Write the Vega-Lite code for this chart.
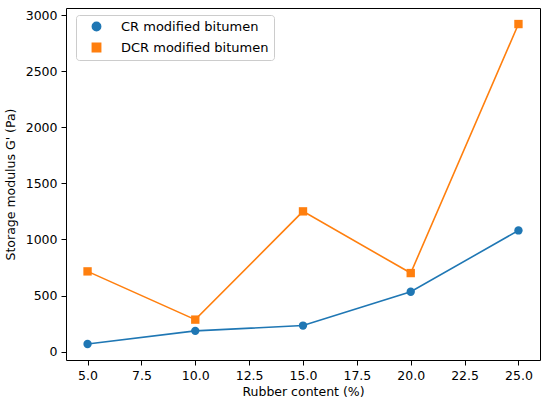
{
  "$schema": "https://vega.github.io/schema/vega-lite/v6.json",
  "width": 474,
  "height": 352,
  "autosize": {"type": "none"},
  "padding": {"left": 66, "top": 8, "right": 10, "bottom": 48},
  "background": "white",
  "config": {
    "font": "DejaVu Sans",
    "view": {"stroke": "#000000", "strokeWidth": 1},
    "axis": {
      "grid": false,
      "domain": false,
      "tickColor": "#000000",
      "tickSize": 5,
      "labelFontSize": 12.5,
      "labelColor": "#000000",
      "titleFontSize": 12.5,
      "titleFontWeight": "normal",
      "titleColor": "#000000",
      "labelPadding": 4
    },
    "legend": {
      "title": null,
      "orient": "none",
      "legendX": 10,
      "legendY": 7,
      "direction": "vertical",
      "fillColor": "white",
      "strokeColor": "#cccccc",
      "cornerRadius": 3,
      "padding": 5,
      "labelFontSize": 13,
      "labelColor": "#000000",
      "symbolSize": 70,
      "rowPadding": 6,
      "symbolOffset": 9,
      "labelOffset": 18
    }
  },
  "data": {
    "values": [
      {"rubber": 5, "modulus": 68, "series": "CR modified bitumen"},
      {"rubber": 10, "modulus": 185, "series": "CR modified bitumen"},
      {"rubber": 15, "modulus": 232, "series": "CR modified bitumen"},
      {"rubber": 20, "modulus": 533, "series": "CR modified bitumen"},
      {"rubber": 25, "modulus": 1080, "series": "CR modified bitumen"},
      {"rubber": 5, "modulus": 715, "series": "DCR modified bitumen"},
      {"rubber": 10, "modulus": 285, "series": "DCR modified bitumen"},
      {"rubber": 15, "modulus": 1250, "series": "DCR modified bitumen"},
      {"rubber": 20, "modulus": 700, "series": "DCR modified bitumen"},
      {"rubber": 25, "modulus": 2920, "series": "DCR modified bitumen"}
    ]
  },
  "encoding": {
    "x": {
      "field": "rubber",
      "type": "quantitative",
      "title": "Rubber content (%)",
      "scale": {"domain": [4, 26], "nice": false, "zero": false},
      "axis": {"values": [5, 7.5, 10, 12.5, 15, 17.5, 20, 22.5, 25], "format": ".1f", "titlePadding": 4}
    },
    "y": {
      "field": "modulus",
      "type": "quantitative",
      "title": "Storage modulus G' (Pa)",
      "scale": {"domain": [-75, 3063], "nice": false, "zero": false},
      "axis": {"values": [0, 500, 1000, 1500, 2000, 2500, 3000], "format": "d", "titlePadding": 8}
    }
  },
  "layer": [
    {
      "mark": {"type": "line", "strokeWidth": 1.6},
      "encoding": {
        "color": {
          "field": "series",
          "type": "nominal",
          "scale": {"domain": ["CR modified bitumen", "DCR modified bitumen"], "range": ["#1f77b4", "#ff7f0e"]}
        }
      }
    },
    {
      "mark": {"type": "point", "filled": true, "opacity": 1, "size": 70},
      "encoding": {
        "color": {
          "field": "series",
          "type": "nominal",
          "scale": {"domain": ["CR modified bitumen", "DCR modified bitumen"], "range": ["#1f77b4", "#ff7f0e"]}
        },
        "shape": {
          "field": "series",
          "type": "nominal",
          "scale": {"domain": ["CR modified bitumen", "DCR modified bitumen"], "range": ["circle", "square"]}
        }
      }
    }
  ]
}
